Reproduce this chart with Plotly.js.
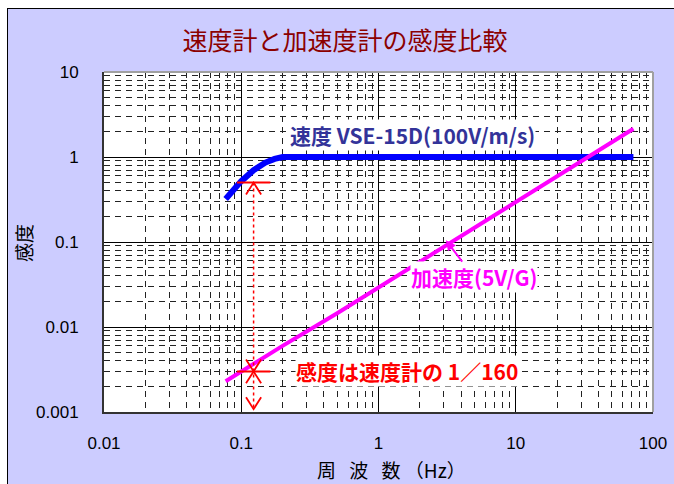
<!DOCTYPE html>
<html><head><meta charset="utf-8">
<script src="https://cdn.plot.ly/plotly-3.0.1.min.js"></script>
<style>
html,body{margin:0;padding:0;background:#fff;width:674px;height:484px;overflow:hidden;}
#bg{position:absolute;left:7px;top:8px;width:680px;height:490px;background:#ccccff;border-left:1.5px solid #000;border-top:1.5px solid #000;}
#chart{position:absolute;left:0;top:0;width:674px;height:484px;}
</style></head>
<body><div id="bg"></div><div id="chart"></div>
<script>
// ---- data ----
const velX = [0.077, 0.085, 0.1, 0.123, 0.15, 0.175, 0.2, 0.5, 1, 2, 5, 10, 20, 50, 72];
const velY = [0.32, 0.38, 0.52, 0.70, 0.86, 0.95, 1.0, 1, 1, 1, 1, 1, 1, 1, 1];
const accX = [0.077, 0.1, 0.2, 0.5, 1, 2, 5, 10, 20, 50, 72];
const accY = [0.0023, 0.003, 0.006, 0.0145, 0.029, 0.058, 0.145, 0.29, 0.58, 1.45, 2.15];
const markerX = 0.123;
const refLevels = [0.5, 0.003];
const refSpanX = [0.093, 0.163];
const dimBottom = 0.00108;
const xTickVals = [0.01, 0.1, 1, 10, 100];
const xTickText = ['0.01', '0.1', '1', '10', '100'];
const yTickVals = [0.001, 0.01, 0.1, 1, 10];
const yTickText = ['0.001', '0.01', '0.1', '1', '10'];
const arrowTarget = [3.1, 0.105];

// chevron helper (decoration derived from the data positions)
const HW = 0.055, HH = 0.14;
function chevron(x, y, dir){ // dir +1: arms go up (V), -1: arms go down (^)
  const f = Math.pow(10, dir*HH);
  return {x:[x*Math.pow(10,-HW), x, x*Math.pow(10,HW)], y:[y*f, y, y*f]};
}
const red = '#ff0000';
const traces = [];
traces.push({x:velX, y:velY, mode:'lines', line:{color:'#0000ff', width:6}, hoverinfo:'skip'});
traces.push({x:accX, y:accY, mode:'lines', line:{color:'#ff00ff', width:4}, hoverinfo:'skip'});
refLevels.forEach(v=>{
  traces.push({x:refSpanX, y:[v, v], mode:'lines', line:{color:red, width:2}, hoverinfo:'skip'});
});
traces.push({x:[markerX, markerX], y:[refLevels[0], dimBottom], mode:'lines', line:{color:red, width:1.5, dash:'dot'}, hoverinfo:'skip'});
[[refLevels[0], -1], [refLevels[1], 1], [refLevels[1], -1], [dimBottom, 1]].forEach(([y,d])=>{
  const c = chevron(markerX, y, d);
  traces.push({x:c.x, y:c.y, mode:'lines', line:{color:red, width:1.8}, hoverinfo:'skip'});
});

const jp = 'Noto Sans CJK JP, sans-serif';
const num = 'Liberation Sans, Arial, sans-serif';
const gridDash = '6px,5px';
function axis(vals, text, range){
  return {
    type:'log', range:range, tickmode:'array', tickvals:vals, ticktext:text,
    showgrid:true, gridcolor:'#000', gridwidth:1,
    minor:{tickmode:'linear', dtick:'D1', showgrid:true, gridcolor:'#222', gridwidth:1, griddash:gridDash, ticks:''},
    showline:true, linecolor:'#333', linewidth:2, mirror:false,
    ticks:'', ticklabelstandoff:20, zeroline:false,
    tickfont:{family:num, size:17, color:'#000'}
  };
}
const xa = axis(xTickVals, xTickText, [-2, 2]);
xa.ticklabelstandoff = 15;
const ya = axis(yTickVals, yTickText, [-3, 1]);

const layout = {
  width:674, height:484,
  margin:{l:104, r:21, t:72, b:72},
  paper_bgcolor:'rgba(0,0,0,0)', plot_bgcolor:'#fff',
  showlegend:false,
  title:{text:'速度計と加速度計の感度比較', font:{family:jp, size:25, color:'#8b0000'},
         x:0.512, xref:'container', y:0.915, yref:'container', xanchor:'center', yanchor:'middle'},
  xaxis:xa, yaxis:ya,
  shapes:[
    {type:'line', xref:'paper', yref:'paper', x0:0, x1:1, y0:1, y1:1, line:{color:'#a0a0a0', width:2}},
    {type:'line', xref:'paper', yref:'paper', x0:1, x1:1, y0:0, y1:1, line:{color:'#a0a0a0', width:2}}
  ],
  annotations:[
    {x:0.523, y:-0.17, xref:'paper', yref:'paper', text:'周\u2002\u2009波\u2002\u2009数 （Hz）', showarrow:false,
     font:{family:jp, size:19, color:'#000'}, xanchor:'center', yanchor:'middle', borderpad:0},
    {x:-0.1475, y:0.497, xref:'paper', yref:'paper', text:'感度', showarrow:false, textangle:-90,
     font:{family:jp, size:19, color:'#000'}, xanchor:'center', yanchor:'middle'},
    {x:0.248, y:0.257, xref:'x', yref:'y', text:'<b>速度 VSE-15D(100V/m/s)</b>', showarrow:false,
     font:{family:jp, size:21, color:'#333399'}, bgcolor:'#fff', borderpad:0},
    {x:0.204, y:-2.516, xref:'x', yref:'y', text:'<b>感度は速度計の 1／160</b>', showarrow:false,
     font:{family:jp, size:21, color:'#ff0000'}, bgcolor:'#fff', borderpad:0},
    {x:Math.log10(arrowTarget[0]), y:Math.log10(arrowTarget[1]), xref:'x', yref:'y', text:'<b>加速度(5V/G)</b>',
     showarrow:true, ax:28, ay:37, arrowhead:2, arrowsize:1, arrowwidth:2, arrowcolor:'#ff00ff',
     font:{family:jp, size:21, color:'#ff00ff'}, bgcolor:'#fff', borderpad:0}
  ]
};
Plotly.newPlot('chart', traces, layout, {displayModeBar:false, staticPlot:true});
</script></body></html>
